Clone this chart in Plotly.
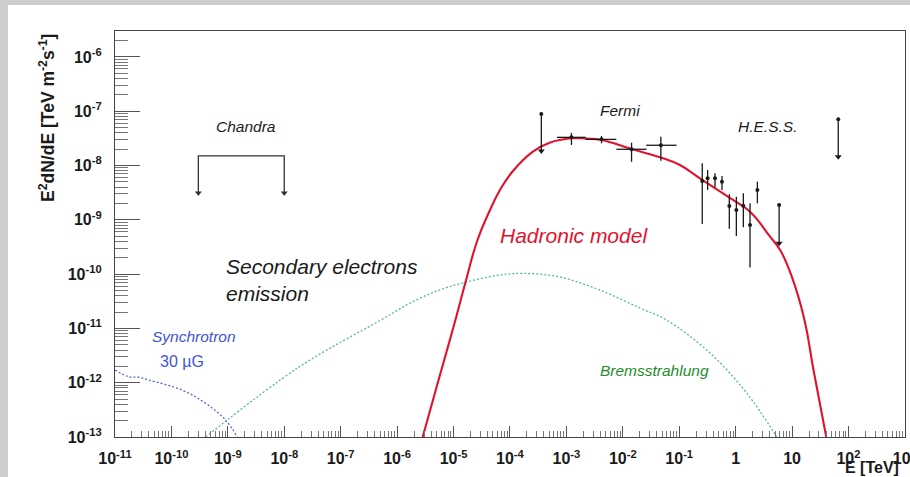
import numpy as np
import plotly.graph_objects as go

# ---------------- data ----------------
# Hadronic (pi0 decay) model, E [TeV] vs E^2 dN/dE [TeV m^-2 s^-1]
hadronic_E = [2.84e-6, 5.62e-6, 1.08e-5, 1.67e-5, 2.66e-5, 4.35e-5, 6.8e-5, 1.15e-4,
              2.52e-4, 5.05e-4, 1.23e-3, 2.26e-3, 4.2e-3, 1.43e-2, 4.54e-2, 0.103,
              0.233, 0.90, 1.80, 4.08, 6.15, 9.9, 16.6, 24.0, 40.4]
hadronic_F = [1e-13, 1.27e-12, 1.43e-11, 7.8e-11, 4.25e-10, 1.45e-9, 3.7e-9, 8.1e-9,
              1.79e-8, 2.63e-8, 3.17e-8, 3.12e-8, 2.95e-8, 2.01e-8, 1.42e-8, 1.02e-8,
              5.8e-9, 2.32e-9, 1.41e-9, 4.89e-10, 2.78e-10, 8.95e-11, 1.43e-11, 1.71e-12, 1e-13]

# Bremsstrahlung from secondary electrons
brems_E = [4.04e-10, 1.83e-8, 5.18e-7, 2.17e-6, 8.45e-6, 6.53e-5, 1.82e-4, 7.6e-4,
           3.9e-3, 2.0e-2, 5.97e-2, 0.351, 1.57, 5.37]
brems_F = [1e-13, 1.95e-12, 1.43e-11, 3.33e-11, 5.86e-11, 9.6e-11, 1.03e-10, 8.86e-11,
           5.09e-11, 2.38e-11, 1.43e-11, 3.52e-12, 6.46e-13, 1e-13]

# Synchrotron from secondary electrons, B = 30 uG
sync_E = [1e-11, 1.75e-11, 2.64e-11, 3.97e-11, 1.53e-10, 4.04e-10, 9.1e-10, 1.47e-9]
sync_F = [1.71e-12, 1.29e-12, 1.26e-12, 1.12e-12, 7.35e-13, 4.18e-13, 2.06e-13, 1e-13]

# Chandra X-ray upper limits (band edges)
chandra_E = [3e-10, 1e-8]
chandra_ul = [1.5e-8, 1.5e-8]
chandra_arrow = [3.1e-9, 3.1e-9]

# Fermi-LAT flux points
fermi_E = [1.23e-3, 4.2e-3, 1.43e-2, 4.73e-2]
fermi_Elo = [6.8e-4, 2.2e-3, 7.7e-3, 2.6e-2]
fermi_Ehi = [2.2e-3, 7.7e-3, 2.64e-2, 9.0e-2]
fermi_F = [3.3e-8, 3.03e-8, 1.99e-8, 2.36e-8]
fermi_Flo = [2.39e-8, 2.56e-8, 1.17e-8, 1.22e-8]
fermi_Fhi = [4.0e-8, 3.49e-8, 2.63e-8, 3.39e-8]
fermi_ul_E = [3.6e-4]
fermi_ul = [8.9e-8]
fermi_ul_arrow = [1.85e-8]

# H.E.S.S. flux points
hess_E = [0.256, 0.319, 0.431, 0.573, 0.773, 1.03, 1.37, 1.80, 2.43]
hess_F = [5.19e-9, 5.8e-9, 5.8e-9, 5.04e-9, 1.79e-9, 1.51e-9, 1.82e-9, 8.0e-10, 3.54e-9]
hess_Flo = [8.4e-10, 3.54e-9, 3.97e-9, 3.54e-9, 6.86e-10, 5.04e-10, 7.28e-10, 1.33e-10, 2.01e-9]
hess_Fhi = [1.10e-8, 8.3e-9, 7.18e-9, 6.41e-9, 2.95e-9, 2.66e-9, 3.08e-9, 2.01e-9, 5.04e-9]
hess_ul_E = [5.9, 65.9]
hess_ul = [1.88e-9, 7.1e-8]
hess_ul_arrow = [3.69e-10, 1.45e-8]

# axis ticks
x_exponents = list(range(-11, 4))
x_ticktext = ["10<sup>%d</sup>" % e for e in range(-11, 0)] + ["1", "10", "10<sup>2</sup>", "10<sup>3</sup>"]
y_exponents = list(range(-13, -5))
y_ticktext = ["10<sup>%d</sup>" % e for e in y_exponents]

# ---------------- figure ----------------
FONT = "Liberation Sans, Arial, Helvetica, sans-serif"
INK = "#1a1a1a"

fig = go.Figure()

fig.add_trace(go.Scatter(x=sync_E, y=sync_F, mode="lines", line_shape="spline",
                         line=dict(color="#5468cc", width=1.3, dash="2px,2px"),
                         hoverinfo="skip", showlegend=False))
fig.add_trace(go.Scatter(x=brems_E, y=brems_F, mode="lines", line_shape="spline",
                         line=dict(color="#55b89a", width=1.3, dash="2px,2px"),
                         hoverinfo="skip", showlegend=False))
fig.add_trace(go.Scatter(x=hadronic_E, y=hadronic_F, mode="lines", line_shape="spline",
                         line=dict(color="#e3122c", width=2.1, smoothing=1.3),
                         hoverinfo="skip", showlegend=False))

# Chandra bracket with arrows
fig.add_trace(go.Scatter(
    x=[chandra_E[0], chandra_E[0], chandra_E[1], chandra_E[1]],
    y=[chandra_arrow[0], chandra_ul[0], chandra_ul[1], chandra_arrow[1]],
    mode="lines", line=dict(color="#333333", width=1.3), showlegend=False))
fig.add_trace(go.Scatter(x=chandra_E, y=chandra_arrow, mode="markers",
                         marker=dict(symbol="triangle-down", size=6, color="#333333"),
                         showlegend=False))

# Fermi points
fig.add_trace(go.Scatter(
    x=fermi_E, y=fermi_F, mode="markers",
    marker=dict(symbol="circle", size=4, color=INK),
    error_x=dict(type="data", symmetric=False,
                 array=[h - e for h, e in zip(fermi_Ehi, fermi_E)],
                 arrayminus=[e - l for e, l in zip(fermi_E, fermi_Elo)],
                 color=INK, thickness=1.3, width=0),
    error_y=dict(type="data", symmetric=False,
                 array=[h - f for h, f in zip(fermi_Fhi, fermi_F)],
                 arrayminus=[f - l for f, l in zip(fermi_F, fermi_Flo)],
                 color=INK, thickness=1.3, width=0),
    showlegend=False))

# H.E.S.S. points
fig.add_trace(go.Scatter(
    x=hess_E, y=hess_F, mode="markers",
    marker=dict(symbol="circle", size=4, color=INK),
    error_y=dict(type="data", symmetric=False,
                 array=[h - f for h, f in zip(hess_Fhi, hess_F)],
                 arrayminus=[f - l for f, l in zip(hess_F, hess_Flo)],
                 color=INK, thickness=1.3, width=0),
    showlegend=False))

# upper limits (Fermi + H.E.S.S.)
ul_E = fermi_ul_E + hess_ul_E
ul_F = fermi_ul + hess_ul
ul_arrow = fermi_ul_arrow + hess_ul_arrow
fig.add_trace(go.Scatter(
    x=ul_E, y=ul_F, mode="markers",
    marker=dict(symbol="circle", size=4, color=INK),
    error_y=dict(type="data", symmetric=False, array=[0] * len(ul_F),
                 arrayminus=[f - a for f, a in zip(ul_F, ul_arrow)],
                 color=INK, thickness=1.3, width=0),
    showlegend=False))
fig.add_trace(go.Scatter(x=ul_E, y=ul_arrow, mode="markers",
                         marker=dict(symbol="triangle-down", size=6, color=INK),
                         showlegend=False))

# minor tick positions (2..9 x 10^n)
x_minor = [k * 10.0 ** n for n in range(-11, 3) for k in range(2, 10)]
y_minor = [k * 10.0 ** n for n in range(-13, -5) for k in range(2, 10) if k * 10.0 ** n <= 3e-6]

tickfont = dict(family=FONT, size=16, color=INK, weight="bold")

fig.update_xaxes(
    type="log", range=[-11, 3.002],
    tickvals=[10.0 ** e for e in x_exponents], ticktext=x_ticktext,
    ticks="inside", ticklen=11, tickwidth=1, tickcolor="#555555",
    minor=dict(tickvals=x_minor, ticks="inside", ticklen=6, tickwidth=1, tickcolor="#777777"),
    showline=True, linecolor="#444444", linewidth=1.2, mirror=True,
    showgrid=False, zeroline=False, tickfont=tickfont, ticklabelstandoff=7,
    ticklabeloverflow="allow", automargin=False,
)
fig.update_yaxes(
    type="log", range=[-13, np.log10(3e-6)],
    tickvals=[10.0 ** e for e in y_exponents], ticktext=y_ticktext,
    ticks="inside", ticklen=25, tickwidth=1, tickcolor="#555555",
    minor=dict(tickvals=y_minor, ticks="inside", ticklen=13, tickwidth=1, tickcolor="#777777"),
    showline=True, linecolor="#444444", linewidth=1.2, mirror=True,
    showgrid=False, zeroline=False, tickfont=tickfont, ticklabelstandoff=9,
    automargin=False,
)

def label(text, lx, ly, size, color=INK, italic=True, anchor="center"):
    fig.add_annotation(x=lx, y=ly, xref="x", yref="y", text=text, showarrow=False,
                       xanchor=anchor, yanchor="middle", align="left",
                       font=dict(family=FONT, size=size, color=color,
                                 style="italic" if italic else "normal"))

label("Chandra", -8.68, -7.29, 15.5)
label("Fermi", -2.05, -6.98, 15.5)
label("H.E.S.S.", 0.56, -7.29, 15.5)
label("Secondary electrons<br>emission", -9.07, -10.11, 21, anchor="left")
label("Hadronic model", -4.22, -9.28, 21, color="#e3122c", anchor="left")
label("Synchrotron", -9.60, -11.14, 15.5, color="#3f55d0")
label("30 µG", -9.81, -11.61, 16, color="#3f55d0", italic=False)
label("Bremsstrahlung", -1.43, -11.78, 15.5, color="#1f8c2c")

W, H = 910, 477
ML, MR, MT, MB = 115, 5, 31, 40
PW, PH = W - ML - MR, H - MT - MB

def px_to_paper_x(px):
    return (px - ML) / PW

def px_to_paper_y(py):
    return (H - MB - py) / PH

# axis titles
fig.add_annotation(x=px_to_paper_x(47), y=px_to_paper_y(118), xref="paper", yref="paper",
                   text="E<sup>2</sup>dN/dE [TeV m<sup>-2</sup>s<sup>-1</sup>]",
                   textangle=-90, showarrow=False, xanchor="center", yanchor="middle",
                   font=dict(family=FONT, size=17.5, color=INK, weight="bold"))
fig.add_annotation(x=px_to_paper_x(901), y=px_to_paper_y(467), xref="paper", yref="paper",
                   text="E [TeV]", showarrow=False, xanchor="right", yanchor="middle",
                   font=dict(family=FONT, size=16, color=INK, weight="bold"))

# grey page border strips
fig.add_shape(type="rect", xref="paper", yref="paper", layer="below",
              x0=px_to_paper_x(0), x1=px_to_paper_x(8), y0=px_to_paper_y(H), y1=px_to_paper_y(0),
              fillcolor="#cdcdcd", line_width=0)
fig.add_shape(type="rect", xref="paper", yref="paper", layer="below",
              x0=px_to_paper_x(0), x1=px_to_paper_x(W), y0=px_to_paper_y(5), y1=px_to_paper_y(0),
              fillcolor="#cdcdcd", line_width=0)

fig.update_layout(
    width=W, height=H,
    margin=dict(l=ML, r=MR, t=MT, b=MB, autoexpand=False),
    paper_bgcolor="white", plot_bgcolor="white",
    showlegend=False,
)

fig.write_html("out.html")
